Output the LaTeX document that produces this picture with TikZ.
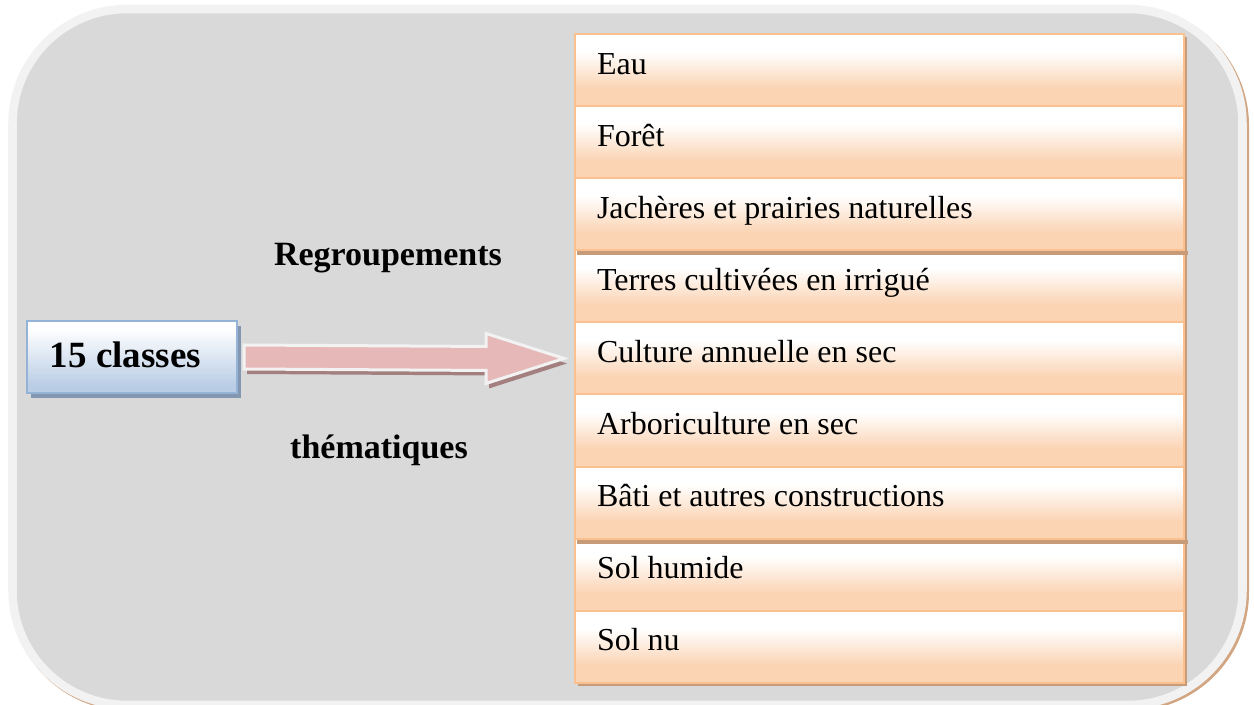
\documentclass[tikz,border=0pt]{standalone}
\usepackage{fontspec}
\setmainfont{Liberation Serif}
\usetikzlibrary{calc,shadows}
\definecolor{bggrey}{HTML}{D9D9D9}
\definecolor{bgedge}{HTML}{F2F2F2}
\definecolor{bgshadow}{HTML}{D2A682}
\definecolor{rowbot}{HTML}{FBD4B4}
\definecolor{rowedge}{HTML}{FAC090}
\definecolor{rowshadow}{HTML}{C79B77}
\definecolor{bluebot}{HTML}{B9CDE5}
\definecolor{blueedge}{HTML}{95B3D7}
\definecolor{blueshadow}{HTML}{8497B0}
\definecolor{arrowfill}{HTML}{E6B9B8}
\definecolor{arrowshadow}{HTML}{A3807F}
\pgfdeclareverticalshading{rowshade}{100bp}{color(0bp)=(rowbot); color(37.5bp)=(rowbot); color(62.5bp)=(white); color(100bp)=(white)}
\pgfdeclareverticalshading{blueshade}{100bp}{color(0bp)=(bluebot); color(30bp)=(bluebot); color(70bp)=(white); color(100bp)=(white)}
\begin{document}
\begin{tikzpicture}[x=0.75pt,y=-0.75pt,
  rowbox/.style={draw=rowedge, line width=1.5pt, shading=rowshade,
    minimum width=456.75pt, minimum height=54.1pt, text width=423.75pt,
    inner xsep=16.5pt, inner ysep=0pt, text height=16pt, text depth=10pt,
    align=flush left, anchor=north west, font=\fontsize{24}{28}\selectfont,
    drop shadow={shadow xshift=2.25pt, shadow yshift=-2.25pt, fill=rowshadow, opacity=1}},
  clsbox/.style={draw=blueedge, line width=1.5pt, shading=blueshade,
    minimum width=157.5pt, minimum height=54pt, text width=123pt,
    inner xsep=17.25pt, inner ysep=0pt, text height=20pt, text depth=3.5pt,
    align=flush left, font=\bfseries\fontsize{27.75}{32}\selectfont,
    drop shadow={shadow xshift=3pt, shadow yshift=-3.5pt, fill=blueshadow, opacity=1}},
  lbl/.style={font=\bfseries\fontsize{25.5}{30}\selectfont, inner sep=0pt, anchor=base},
  blockarrow/.style={draw=bgedge, line width=2.25pt, fill=arrowfill, line join=miter,
    drop shadow={shadow xshift=2.25pt, shadow yshift=-3.75pt, fill=arrowshadow, opacity=1}}
]
\useasboundingbox (0,0) rectangle (1254,705);
% background panel
\fill[bgshadow, rounded corners=89pt] (10,7) rectangle (1249,711);
\draw[bgedge, line width=6.4pt, fill=bggrey, rounded corners=86pt] (12.5,9) rectangle (1242.5,705);

% rows
\foreach \t [count=\i] in {Eau, Forêt, Jachères et prairies naturelles, Terres cultivées en irrigué,
  Culture annuelle en sec, Arboriculture en sec, Bâti et autres constructions, Sol humide, Sol nu}{
  \node[rowbox] (r\i) at (574, {33+72.1*(\i-1)}) {\t};
}
\fill[rowshadow] ($(r3.south west)+(3,0)$) rectangle ($(r3.south east)+(3,4)$);
\fill[rowshadow] ($(r7.south west)+(3,0)$) rectangle ($(r7.south east)+(3,4)$);

% source box
\node[clsbox] (cls) at (132,357) {15 classes};

% labels
\node[lbl] (reg) at (388,266) {Regroupements};
\node[lbl] (them) at (379,459) {thématiques};

% block arrow
\path ($(cls.east)+(6,0)$) coordinate (as) ($(r5.west)+(-10,0)$) coordinate (at);
\draw[blockarrow] ($(as)+(0,-12)$) -- ($(at)+(-78,-12)$) -- ($(at)+(-78,-25)$) -- (at)
  -- ($(at)+(-78,25)$) -- ($(at)+(-78,12)$) -- ($(as)+(0,12)$) -- cycle;
\end{tikzpicture}
\end{document}
